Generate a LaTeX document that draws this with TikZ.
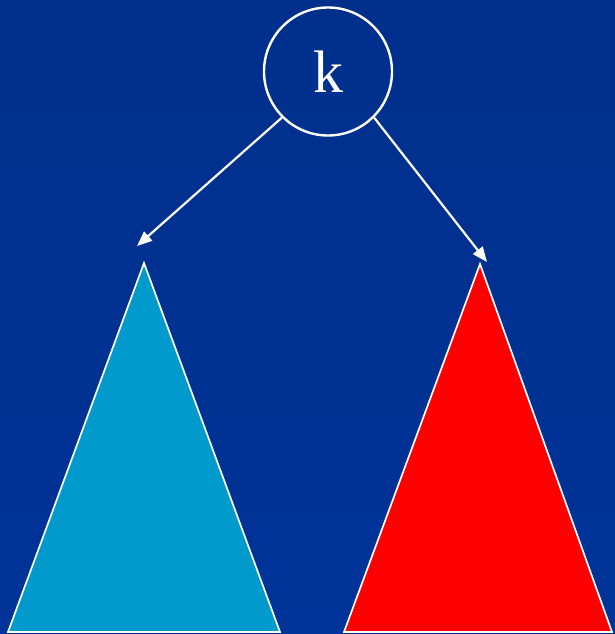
\documentclass[tikz,border=0pt]{standalone}
\usepackage{fontspec}
\setmainfont{Liberation Serif}
\usetikzlibrary{arrows.meta}
\definecolor{bgtop}{RGB}{0,48,140}
\definecolor{bgbot}{RGB}{0,51,153}
\definecolor{treecyan}{RGB}{0,155,204}
\definecolor{treered}{RGB}{255,0,0}
\tikzset{
  keynode/.style={circle, draw=white, line width=2.4pt, minimum size=128pt, inner sep=0pt, text=white, font=\fontsize{60}{60}\selectfont},
  edge/.style={draw=white, line width=2.2pt, -{Triangle[length=15pt,width=12pt]}},
  subtree/.style={draw=white, line width=1.7pt, line join=miter}
}
\begin{document}
\begin{tikzpicture}[x=1pt,y=-1pt]
  \useasboundingbox (0,0) rectangle (615,634);
  \shade[top color=bgtop, bottom color=bgbot] (0,0) rectangle (615,634);
  \node[keynode] (k) at (328,71.5) {k};
  \coordinate (tl) at (144,263);
  \coordinate (tr) at (480,264);
  \coordinate (tipl) at (137,246);
  \coordinate (tipr) at (487,262);
  \path[subtree, fill=treecyan] (tl) -- (8,632) -- (280,632) -- cycle;
  \path[subtree, fill=treered] (tr) -- (344,632) -- (612,632) -- cycle;
  \draw[edge] (k.225) -- (tipl);
  \draw[edge] (k.-45) -- (tipr);
\end{tikzpicture}
\end{document}
